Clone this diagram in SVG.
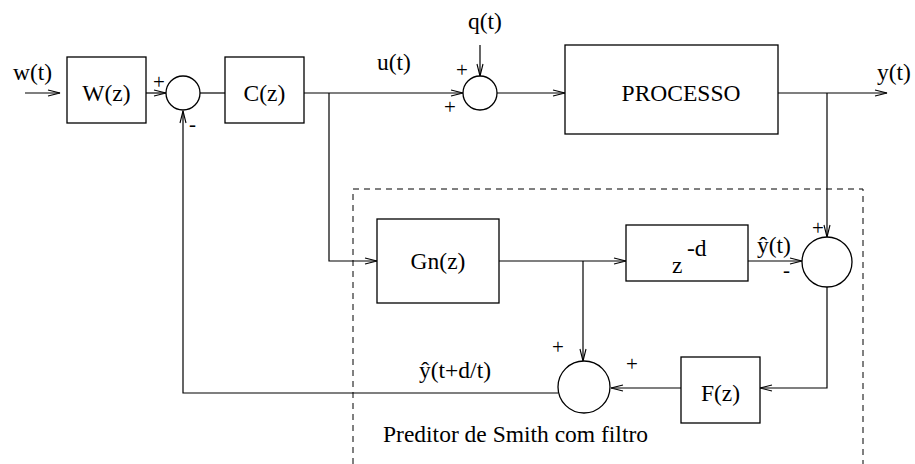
<svg xmlns="http://www.w3.org/2000/svg" width="915" height="464" viewBox="0 0 915 464">
<defs>
<marker id="ar" markerWidth="14" markerHeight="8" refX="13" refY="4" orient="auto" markerUnits="userSpaceOnUse">
<path d="M1,1 L13,4 L1,7" fill="none" stroke="#000" stroke-width="1.1"/>
</marker>
<style>
.b{fill:#fff;stroke:#000;stroke-width:1.3}
.l{fill:none;stroke:#000;stroke-width:1.2}
text{font-family:'Liberation Serif','DejaVu Serif','Times New Roman',Times,serif;fill:#000}
.t{font-size:23.5px}
.s{font-size:21px}
.c{text-anchor:middle}
</style>
</defs>
<rect width="915" height="464" fill="#fff"/>
<g id="connectors">
<path class="l" d="M25,93 H60" marker-end="url(#ar)"/>
<path class="l" d="M146,93 H166" marker-end="url(#ar)"/>
<path class="l" d="M200,93 H225"/>
<path class="l" d="M304,93 H463" marker-end="url(#ar)"/>
<path class="l" d="M480,45 V76" marker-end="url(#ar)"/>
<path class="l" d="M497,93 H565" marker-end="url(#ar)"/>
<path class="l" d="M778,93 H887" marker-end="url(#ar)"/>
<path class="l" d="M827,93 V237" marker-end="url(#ar)"/>
<path class="l" d="M329,93 V261 H377" marker-end="url(#ar)"/>
<path class="l" d="M499,261 H626" marker-end="url(#ar)"/>
<path class="l" d="M748,261 H802" marker-end="url(#ar)"/>
<path class="l" d="M583,261 V361" marker-end="url(#ar)"/>
<path class="l" d="M827,287 V388 H760" marker-end="url(#ar)"/>
<path class="l" d="M681,388 H611" marker-end="url(#ar)"/>
<path class="l" d="M558,393 H183 V111" marker-end="url(#ar)"/>
</g>
<g id="smith-box">
<path d="M353,464 V189 H863 V464" fill="none" stroke="#000" stroke-width="1" stroke-dasharray="6,5"/>
<text class="t" x="383" y="442">Preditor de Smith com filtro</text>
</g>
<g id="input">
<text class="t" x="13" y="80">w(t)</text>
</g>
<g id="W">
<rect class="b" x="67" y="57" width="79" height="66"/>
<text class="t c" x="106.5" y="101">W(z)</text>
</g>
<g id="sum1">
<circle class="b" cx="183" cy="93" r="17"/>
<text class="s" x="153" y="89">+</text>
<text class="s" x="189" y="131">-</text>
</g>
<g id="C">
<rect class="b" x="225" y="57" width="79" height="66"/>
<text class="t c" x="264.5" y="101">C(z)</text>
</g>
<g id="u-label">
<text class="t" x="377" y="70">u(t)</text>
</g>
<g id="sum2">
<circle class="b" cx="480" cy="93" r="17"/>
<text class="t" x="468" y="29">q(t)</text>
<text class="s" x="456" y="77">+</text>
<text class="s" x="444" y="114">+</text>
</g>
<g id="processo">
<rect class="b" x="565" y="45" width="213" height="89"/>
<text class="t c" x="681" y="101">PROCESSO</text>
</g>
<g id="output">
<text class="t" x="877" y="80">y(t)</text>
</g>
<g id="Gn">
<rect class="b" x="377" y="219" width="122" height="84"/>
<text class="t c" x="438" y="269">Gn(z)</text>
</g>
<g id="zd">
<rect class="b" x="626" y="225" width="122" height="56"/>
<text class="t" x="672" y="273">z</text>
<text class="t" x="687" y="256">-d</text>
</g>
<g id="sum3">
<circle class="b" cx="827" cy="262" r="25"/>
<text class="t" x="757" y="253">ŷ(t)</text>
<text class="s" x="812" y="235">+</text>
<text class="s" x="783" y="277">-</text>
</g>
<g id="sum4">
<circle class="b" cx="584" cy="387" r="26"/>
<text class="s" x="552" y="354">+</text>
<text class="s" x="626" y="371">+</text>
<text class="t" x="419" y="378">ŷ(t+d/t)</text>
</g>
<g id="F">
<rect class="b" x="681" y="357" width="79" height="66"/>
<text class="t c" x="720.5" y="401">F(z)</text>
</g>
</svg>
